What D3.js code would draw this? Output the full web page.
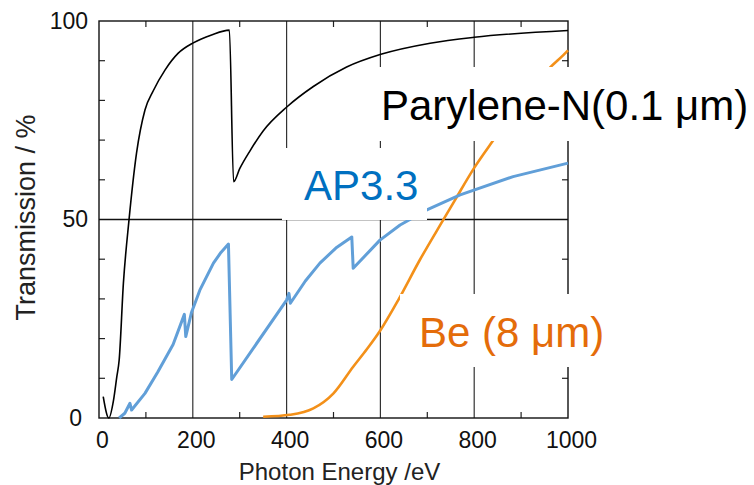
<!DOCTYPE html>
<html><head><meta charset="utf-8">
<script src="https://cdn.jsdelivr.net/npm/d3@7"></script>
<style>body{margin:0;background:#fff}</style></head>
<body><svg id="c" width="754" height="485"></svg>
<script>
// ---- data ----
const parE = [9, 21, 31, 38, 43, 52, 64, 80, 98, 116, 141, 169, 201, 240, 278, 287, 300, 322, 350, 401, 457, 528, 601, 706, 800, 1000];
const parT = [5.4, 0, 4.5, 10.4, 14.6, 33.9, 49.9, 66.7, 77.6, 82.5, 87.7, 91.9, 94.5, 96.5, 97.7, 59.5, 62.8, 67.3, 72.3, 78.4, 83.5, 88.4, 91.6, 94.4, 95.9, 97.6];
const apE = [43, 55, 66, 69.5, 98, 125, 158, 182, 185, 197, 215, 244, 260, 276, 283, 400, 405, 408, 440, 471, 505, 539, 542, 599, 642, 699, 770, 883, 1000];
const apT = [0, 1.2, 3.7, 2.0, 6.2, 11.5, 18.5, 26.1, 20.5, 26.5, 32.2, 39, 41.7, 43.8, 9.7, 29.7, 31.4, 28.9, 34.5, 39, 42.8, 45.6, 37.7, 44.8, 48.6, 52.4, 56.2, 60.8, 64.2];
const beE = [350, 407, 457, 500, 542, 571, 599, 638, 684, 734, 759, 800, 841, 880, 920, 962, 990, 1000];
const beT = [0.3, 0.8, 2.4, 6.2, 12.9, 17.3, 21.9, 29.7, 39.8, 49.9, 54.9, 63, 70, 76.5, 82.5, 88.3, 91.4, 92.6];
const xTicks = [0, 200, 400, 600, 800, 1000];
const xGrid = [200, 400, 600, 800];
const xMinor = [100, 300, 500, 700, 900];
const yTicks = [0, 50, 100];
const yGrid = [50];
const yMinor = [10, 20, 30, 40, 60, 70, 80, 90];
const seriesNames = ["Parylene-N(0.1 \u03bcm)", "AP3.3", "Be (8 \u03bcm)"];

// ---- layout ----
const W = 754, H = 485;
const m = {l: 99, t: 21, r: 186, b: 67};
const svg = d3.select("#c");
const x = d3.scaleLinear().domain([0, 1000]).range([m.l, W - m.r]);
const y = d3.scaleLinear().domain([0, 100]).range([H - m.b, m.t]);
const font = "'Liberation Sans', Arial, sans-serif";

const g = svg.append("g");
// gridlines
g.selectAll(".vg").data(xGrid).join("line")
  .attr("x1", d => x(d)).attr("x2", d => x(d)).attr("y1", y(0)).attr("y2", y(100))
  .attr("stroke", "#333").attr("stroke-width", 1.2);
g.selectAll(".hg").data(yGrid).join("line")
  .attr("x1", x(0)).attr("x2", x(1000)).attr("y1", d => y(d)).attr("y2", d => y(d))
  .attr("stroke", "#111").attr("stroke-width", 1.3);
// minor ticks (inward) on all four sides
const tl = 6;
g.selectAll(".xb").data(xMinor).join("line")
  .attr("x1", d => x(d)).attr("x2", d => x(d)).attr("y1", y(0)).attr("y2", y(0) - tl)
  .attr("stroke", "#222").attr("stroke-width", 1.2);
g.selectAll(".xt").data(xMinor).join("line")
  .attr("x1", d => x(d)).attr("x2", d => x(d)).attr("y1", y(100)).attr("y2", y(100) + tl)
  .attr("stroke", "#222").attr("stroke-width", 1.2);
g.selectAll(".yl").data(yMinor).join("line")
  .attr("x1", x(0)).attr("x2", x(0) + tl).attr("y1", d => y(d)).attr("y2", d => y(d))
  .attr("stroke", "#222").attr("stroke-width", 1.2);
g.selectAll(".yr").data(yMinor).join("line")
  .attr("x1", x(1000)).attr("x2", x(1000) - tl).attr("y1", d => y(d)).attr("y2", d => y(d))
  .attr("stroke", "#222").attr("stroke-width", 1.2);
// frame
g.append("rect").attr("x", x(0)).attr("y", y(100)).attr("width", x(1000) - x(0)).attr("height", y(0) - y(100))
  .attr("fill", "none").attr("stroke", "#111").attr("stroke-width", 1.4);

// axes labels via d3 axes
const xAxis = svg.append("g").attr("transform", `translate(3,${y(0)})`)
  .call(d3.axisBottom(x).tickValues(xTicks).tickSize(0).tickPadding(14).tickFormat(d3.format("d")));
xAxis.select(".domain").remove();
xAxis.selectAll("text").attr("font-family", font).attr("font-size", 23).attr("fill", "#111");
const yAxis = svg.append("g").attr("transform", `translate(${x(0) - 11},0)`)
  .call(d3.axisLeft(y).tickValues(yTicks).tickSize(0).tickPadding(0).tickFormat(d3.format("d")));
yAxis.select(".domain").remove();
yAxis.selectAll("text").attr("font-family", font).attr("font-size", 23).attr("fill", "#111")
  .attr("dx", d => d === 0 ? -6 : 0);

// curves
const smooth = d3.line().x(d => x(d[0])).y(d => y(d[1])).curve(d3.curveMonotoneX);
const straight = d3.line().x(d => x(d[0])).y(d => y(d[1]));
svg.append("path").datum(d3.zip(beE, beT)).attr("d", smooth)
  .attr("fill", "none").attr("stroke", "#F39019").attr("stroke-width", 2.6).attr("stroke-linejoin", "round");
svg.append("path").datum(d3.zip(apE, apT)).attr("d", straight)
  .attr("fill", "none").attr("stroke", "#619FD8").attr("stroke-width", 3).attr("stroke-linejoin", "round");
svg.append("path").datum(d3.zip(parE, parT)).attr("d", smooth)
  .attr("fill", "none").attr("stroke", "#000").attr("stroke-width", 1.6).attr("stroke-linejoin", "round");

// label boxes
const boxes = [
  {x0: 376, y0: 67, x1: 754, y1: 141},
  {x0: 282, y0: 148, x1: 427, y1: 220},
  {x0: 400, y0: 294, x1: 754, y1: 367}
];
svg.selectAll(".box").data(boxes).join("rect")
  .attr("x", d => d.x0).attr("y", d => d.y0).attr("width", d => d.x1 - d.x0).attr("height", d => d.y1 - d.y0)
  .attr("fill", "#fff");
const labelPos = [{x: 381, y: 120, c: "#000"}, {x: 304, y: 200, c: "#0070C0"}, {x: 419, y: 347, c: "#E46C0A"}];
svg.selectAll(".lab").data(seriesNames).join("text")
  .attr("x", (d, i) => labelPos[i].x).attr("y", (d, i) => labelPos[i].y)
  .attr("fill", (d, i) => labelPos[i].c)
  .attr("font-family", font).attr("font-size", 42).text(d => d);

// axis titles
svg.append("text").attr("x", (x(0) + x(1000)) / 2 + 6).attr("y", 480).attr("text-anchor", "middle")
  .attr("font-family", font).attr("font-size", 24).attr("fill", "#222").text("Photon Energy /eV");
svg.append("text").attr("transform", `translate(35,${(y(0) + y(100)) / 2 - 2}) rotate(-90)`).attr("text-anchor", "middle")
  .attr("font-family", font).attr("font-size", 27).attr("fill", "#222").text("Transmission / %");
</script></body></html>
